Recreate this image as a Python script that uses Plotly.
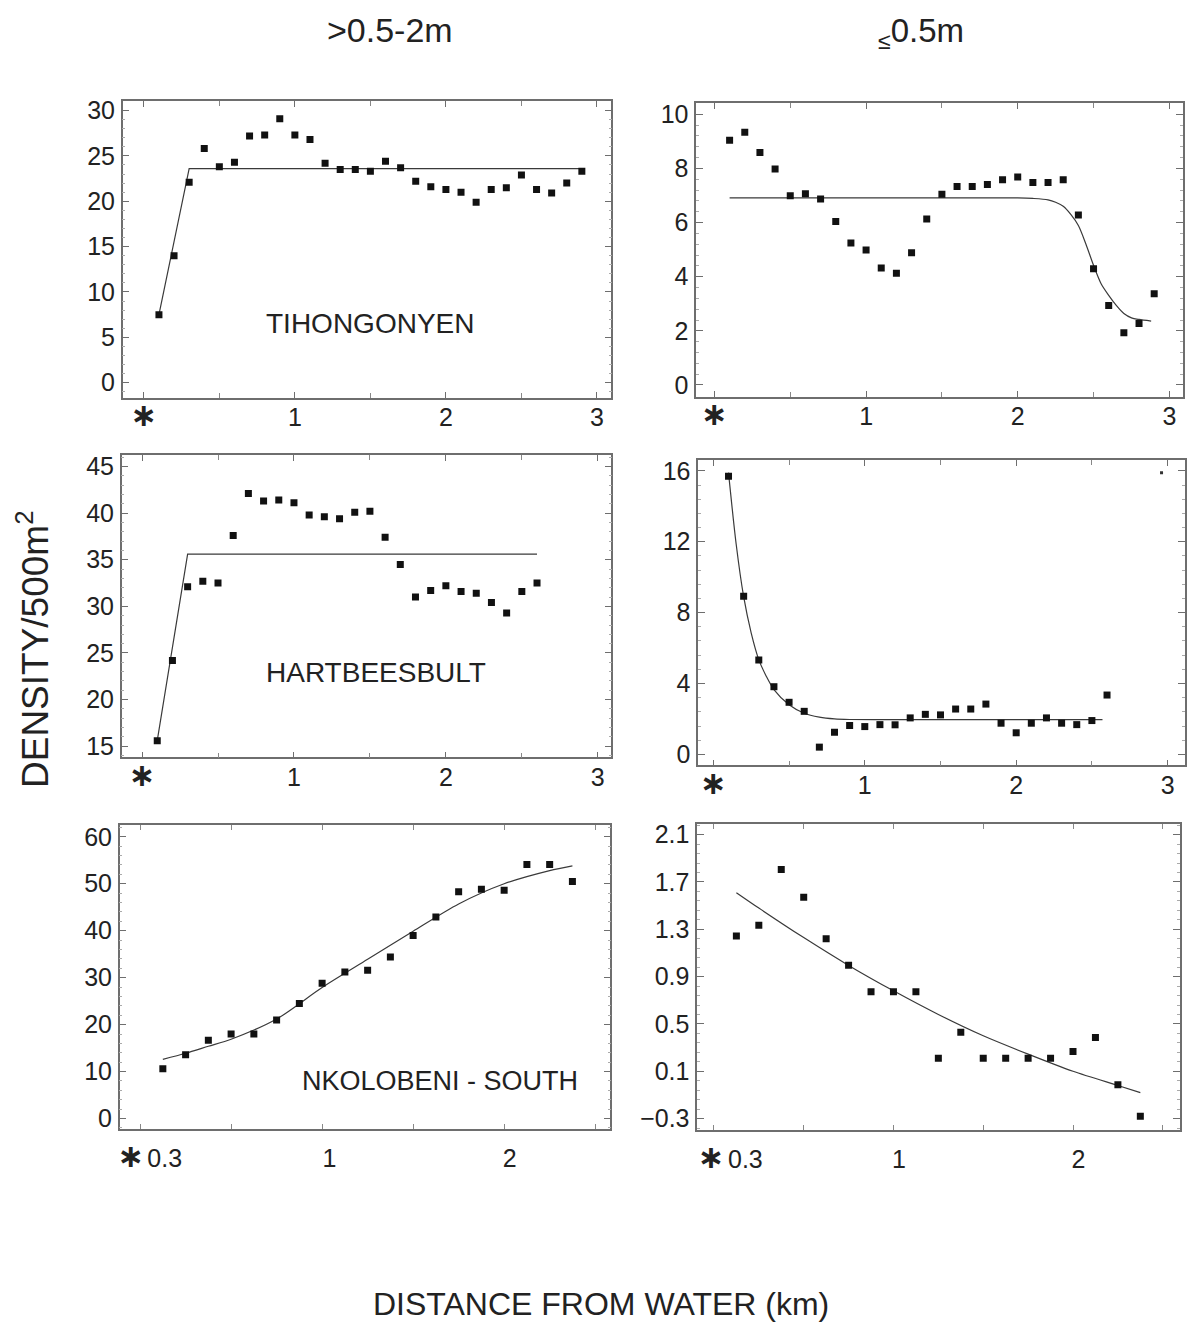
import plotly.graph_objects as go

W, H = 1187, 1327

# ---------------- data ----------------
# Panel 1: TIHONGONYEN, >0.5-2m
p1_x = [0.1, 0.2, 0.3, 0.4, 0.5, 0.6, 0.7, 0.8, 0.9, 1.0, 1.1, 1.2, 1.3, 1.4, 1.5,
        1.6, 1.7, 1.8, 1.9, 2.0, 2.1, 2.2, 2.3, 2.4, 2.5, 2.6, 2.7, 2.8, 2.9]
p1_y = [7.5, 14.0, 22.1, 25.8, 23.8, 24.3, 27.2, 27.3, 29.1, 27.3, 26.8, 24.2, 23.5, 23.5, 23.3,
        24.4, 23.7, 22.2, 21.6, 21.3, 21.0, 19.9, 21.3, 21.5, 22.9, 21.3, 20.9, 22.0, 23.3]
p1_fit_x = [0.1, 0.3, 2.9]
p1_fit_y = [7.5, 23.6, 23.6]

# Panel 2: TIHONGONYEN, <=0.5m
p2_x = p1_x
p2_y = [9.04, 9.33, 8.59, 7.98, 6.99, 7.06, 6.87, 6.04, 5.24, 4.99, 4.32, 4.13, 4.88, 6.13, 7.04,
        7.33, 7.33, 7.40, 7.58, 7.68, 7.48, 7.48, 7.58, 6.28, 4.29, 2.94, 1.93, 2.27, 3.37]
p2_fit_x = [0.1, 0.5, 1.0, 1.5, 2.0, 2.1, 2.2, 2.25, 2.3, 2.35, 2.4, 2.45, 2.5, 2.55, 2.6, 2.65,
            2.7, 2.75, 2.8, 2.88]
p2_fit_y = [6.91, 6.91, 6.91, 6.91, 6.91, 6.89, 6.84, 6.75, 6.6, 6.3, 5.89, 5.2, 4.42, 3.74, 3.31,
            2.94, 2.64, 2.48, 2.42, 2.36]

# Panel 3: HARTBEESBULT, >0.5-2m
p3_x = [0.1, 0.2, 0.3, 0.4, 0.5, 0.6, 0.7, 0.8, 0.9, 1.0, 1.1, 1.2, 1.3, 1.4, 1.5,
        1.6, 1.7, 1.8, 1.9, 2.0, 2.1, 2.2, 2.3, 2.4, 2.5, 2.6]
p3_y = [15.6, 24.2, 32.1, 32.7, 32.5, 37.6, 42.1, 41.3, 41.4, 41.1, 39.8, 39.6, 39.4, 40.1, 40.2,
        37.4, 34.5, 31.0, 31.7, 32.2, 31.6, 31.4, 30.4, 29.3, 31.6, 32.5]
p3_fit_x = [0.1, 0.3, 2.6]
p3_fit_y = [15.6, 35.6, 35.6]

# Panel 4: HARTBEESBULT, <=0.5m
p4_x = p3_x
p4_y = [15.7, 8.93, 5.33, 3.82, 2.94, 2.43, 0.41, 1.25, 1.63, 1.57, 1.68, 1.67, 2.06, 2.26, 2.23,
        2.56, 2.56, 2.84, 1.76, 1.22, 1.76, 2.06, 1.76, 1.68, 1.91, 3.35]
p4_stray_x = [2.96]
p4_stray_y = [15.9]
p4_fit_x = [0.1, 0.15, 0.2, 0.25, 0.3, 0.35, 0.4, 0.5, 0.6, 0.7, 0.8, 0.9, 1.2, 1.6, 2.0, 2.57]
p4_fit_y = [15.9, 11.9, 8.9, 6.85, 5.35, 4.4, 3.66, 2.8, 2.32, 2.1, 2.0, 1.97, 1.96, 1.96, 1.96, 1.96]

# Panel 5: NKOLOBENI-SOUTH, >0.5-2m
p5_x = [0.125, 0.25, 0.375, 0.5, 0.625, 0.75, 0.875, 1.0, 1.125, 1.25, 1.375, 1.5, 1.625,
        1.75, 1.875, 2.0, 2.125, 2.25, 2.375]
p5_y = [10.6, 13.6, 16.7, 18.0, 18.0, 21.0, 24.5, 28.8, 31.2, 31.6, 34.4, 39.0, 42.9,
        48.3, 48.8, 48.6, 54.1, 54.1, 50.5]
p5_fit_x = [0.125, 0.25, 0.375, 0.5, 0.75, 1.0, 1.25, 1.5, 1.75, 2.0, 2.25, 2.375]
p5_fit_y = [12.6, 13.9, 15.4, 16.9, 21.2, 27.9, 33.9, 39.9, 45.7, 50.0, 52.8, 53.8]

# Panel 6: NKOLOBENI-SOUTH, <=0.5m
p6_x = p5_x
p6_y = [1.244, 1.334, 1.805, 1.572, 1.221, 0.997, 0.772, 0.772, 0.772, 0.211, 0.430, 0.211, 0.211,
        0.211, 0.211, 0.267, 0.385, -0.014, -0.28]
p6_fit_x = [0.125, 0.25, 0.5, 0.75, 1.0, 1.25, 1.5, 1.75, 2.0, 2.25, 2.375]
p6_fit_y = [1.61, 1.48, 1.23, 0.995, 0.78, 0.58, 0.40, 0.245, 0.10, -0.02, -0.08]

col_titles = [">0.5-2m", "<sub>≤</sub>0.5m"]
site_labels = ["TIHONGONYEN", "HARTBEESBULT", "NKOLOBENI - SOUTH"]
y_title = "DENSITY/500m<sup>2</sup>"
x_title = "DISTANCE FROM WATER (km)"

STAR = "<span style='font-family:DejaVu Sans;font-size:32px'><b>∗</b></span>"
xt_full_vals = [0, 1, 2, 3]
xt_full_text = [STAR, "1", "2", "3"]

y_ticks = [
    [0, 5, 10, 15, 20, 25, 30],
    [0, 2, 4, 6, 8, 10],
    [15, 20, 25, 30, 35, 40, 45],
    [0, 4, 8, 12, 16],
    [0, 10, 20, 30, 40, 50, 60],
    [-0.3, 0.1, 0.5, 0.9, 1.3, 1.7, 2.1],
]

# ---------------- layout geometry (pixels) ----------------
boxes = [  # left, right, top, bottom
    (121, 611, 97, 395),
    (696, 1184, 99, 394),
    (120, 611, 453, 757),
    (698, 1186, 458, 765),
    (118, 610, 825, 1131),
    (697, 1181, 824, 1132),
]
x_ranges = [(-0.14, 3.096), (-0.12, 3.09), (-0.134, 3.09), (-0.1, 3.115), (-0.112, 2.584), (-0.093, 2.596)]
y_ranges = [(-1.64, 31.0), (-0.43, 10.4), (13.8, 46.2), (-0.62, 16.6), (-2.26, 62.5), (-0.398, 2.19)]
x_tick_sets = [
    (xt_full_vals, xt_full_text),
    (xt_full_vals, xt_full_text),
    (xt_full_vals, xt_full_text),
    (xt_full_vals, xt_full_text),
    ([-0.05, 0.135, 1.04, 2.03], [STAR, "0.3", "1", "2"]),
    ([-0.015, 0.175, 1.03, 2.03], [STAR, "0.3", "1", "2"]),
]

series = [
    (p1_x, p1_y, p1_fit_x, p1_fit_y, "linear"),
    (p2_x, p2_y, p2_fit_x, p2_fit_y, "spline"),
    (p3_x, p3_y, p3_fit_x, p3_fit_y, "linear"),
    (p4_x, p4_y, p4_fit_x, p4_fit_y, "spline"),
    (p5_x, p5_y, p5_fit_x, p5_fit_y, "spline"),
    (p6_x, p6_y, p6_fit_x, p6_fit_y, "spline"),
]

TICKFONT = dict(family="Liberation Sans Narrow, Arial Narrow, Liberation Sans, Arial", size=25, color="#222")
FONT = "Liberation Sans, Arial, sans-serif"
FRAME = "#6e6e6e"

fig = go.Figure()
layout = dict(
    width=W, height=H, margin=dict(l=0, r=0, t=0, b=0),
    paper_bgcolor="white", plot_bgcolor="white", showlegend=False,
    annotations=[],
)

for i, (box, xr, yr, xts, yts, s) in enumerate(zip(boxes, x_ranges, y_ranges, x_tick_sets, y_ticks, series)):
    n = "" if i == 0 else str(i + 1)
    l, r, t, b = box
    xd = [l / W, r / W]
    yd = [1 - b / H, 1 - t / H]
    ystep = yts[1] - yts[0]
    full = i < 4
    layout["xaxis" + n] = dict(
        domain=xd, range=list(xr), anchor="y" + n,
        showline=True, linecolor=FRAME, linewidth=1.5, mirror="ticks",
        ticks="inside", ticklen=6 if full else 0, tickcolor=FRAME, tickwidth=1,
        tickvals=xts[0], ticktext=xts[1], tickfont=TICKFONT,
        ticklabelstandoff=-3 if full else 6,
        minor=dict(ticks="inside", tick0=0, dtick=0.5, ticklen=5, tickcolor="#888"),
        showgrid=False, zeroline=False,
    )
    layout["yaxis" + n] = dict(
        domain=yd, range=list(yr), anchor="x" + n,
        showline=True, linecolor=FRAME, linewidth=1.5, mirror="ticks",
        ticks="inside", ticklen=7, tickcolor=FRAME, tickwidth=1,
        tickvals=yts, tickfont=TICKFONT,
        tickformat=".1f" if i == 5 else "d",
        ticklabelstandoff=1,
        minor=dict(ticks="inside", tick0=yts[0], dtick=ystep / 5, ticklen=3, tickcolor="#aaa"),
        showgrid=False, zeroline=False,
    )
    px, py, fx, fy, shape = s
    fig.add_trace(go.Scatter(
        x=fx, y=fy, mode="lines", xaxis="x" + n, yaxis="y" + n,
        line=dict(color="#3a3a3a", width=1.2, shape=shape, smoothing=0.8),
        hoverinfo="skip",
    ))
    fig.add_trace(go.Scatter(
        x=px, y=py, mode="markers", xaxis="x" + n, yaxis="y" + n,
        marker=dict(symbol="square", size=7, color="#111"),
    ))

fig.add_trace(go.Scatter(
    x=p4_stray_x, y=p4_stray_y, mode="markers", xaxis="x4", yaxis="y4",
    marker=dict(symbol="square", size=3, color="#333"),
))

anns = layout["annotations"]
# column titles
anns.append(dict(text=col_titles[0], x=389 / W, y=1 - 25 / H, xref="paper", yref="paper",
                 showarrow=False, font=dict(family=FONT, size=34, color="#222"),
                 xanchor="center", yanchor="middle"))
anns.append(dict(text=col_titles[1], x=921 / W, y=1 - 28 / H, xref="paper", yref="paper",
                 showarrow=False, font=dict(family=FONT, size=33, color="#222"),
                 xanchor="center", yanchor="middle"))
# site labels
site_pos = [(369, 320), (375, 672), (439, 1083)]
site_sizes = [28, 28, 27]
for lab, (sx, sy), fs in zip(site_labels, site_pos, site_sizes):
    anns.append(dict(text=lab, x=sx / W, y=1 - sy / H, xref="paper", yref="paper",
                     showarrow=False, font=dict(family=FONT, size=fs, color="#222"),
                     xanchor="center", yanchor="middle"))
# axis titles
anns.append(dict(text=y_title, x=31 / W, y=1 - 648 / H, xref="paper", yref="paper",
                 showarrow=False, textangle=-90, font=dict(family=FONT, size=37, color="#222"),
                 xanchor="center", yanchor="middle"))
anns.append(dict(text=x_title, x=601 / W, y=1 - 1307 / H, xref="paper", yref="paper",
                 showarrow=False, font=dict(family=FONT, size=32, color="#222"),
                 xanchor="center", yanchor="middle"))

fig.update_layout(**layout)
fig.write_html("out.html")
